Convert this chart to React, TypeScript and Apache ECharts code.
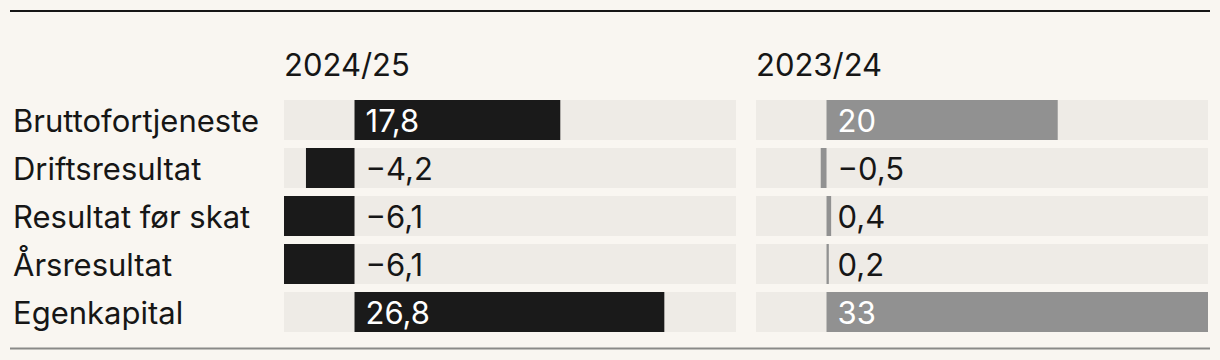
import React, { useEffect, useRef } from "react";
import * as echarts from "echarts";

const categories = ["Bruttofortjeneste", "Driftsresultat", "Resultat før skat", "Årsresultat", "Egenkapital"];
const periods = ["2024/25", "2023/24"];
const values2425 = [17.8, -4.2, -6.1, -6.1, 26.8];
const values2324 = [20, -0.5, 0.4, 0.2, 33];

const axisMin = -6.1;
const axisMax = 33;

const BG = "#f9f6f1";
const BAND = "#eeebe6";
const INK = "#161616";
const BAR_COLORS = ["#1a1a1a", "#919191"];
const FONT = "Inter, 'Noto Sans', sans-serif";

const fmt = (v: number) => {
  const s = Math.abs(v).toString().replace(".", ",");
  return v < 0 ? "\u2212" + s : s;
};

export default function App() {
  const ref = useRef<HTMLDivElement>(null);

  useEffect(() => {
    if (!ref.current) return;
    const chart = echarts.init(ref.current, undefined, { renderer: "svg" });
    const panels = [values2425, values2324];
    const lefts = [284, 756];
    const panelWidth = 452;

    const grid = lefts.map((l) => ({ left: l, width: panelWidth, top: 96, height: 240 }));
    const xAxis = lefts.map((_, i) => ({
      type: "value" as const,
      gridIndex: i,
      min: axisMin,
      max: axisMax,
      show: false,
    }));
    const yAxis = lefts.map((l, i) => ({
      type: "category" as const,
      gridIndex: i,
      data: categories,
      inverse: true,
      axisLine: { show: false },
      axisTick: { show: false },
      axisLabel: {
        show: i === 0,
        align: "left" as const,
        margin: l - 13,
        color: INK,
        fontFamily: FONT,
        fontSize: 31,
      },
    }));

    const series: any[] = [];
    panels.forEach((vals, i) => {
      series.push({
        type: "bar",
        name: periods[i],
        xAxisIndex: i,
        yAxisIndex: i,
        data: vals,
        barWidth: 40,
        showBackground: true,
        backgroundStyle: { color: BAND },
        itemStyle: { color: BAR_COLORS[i] },
      });
      // value labels, anchored at the zero line of each panel
      series.push({
        type: "scatter",
        xAxisIndex: i,
        yAxisIndex: i,
        symbolSize: 0,
        silent: true,
        itemStyle: { opacity: 1 },
        data: vals.map((v, k) => ({
          value: [0, k],
          label: { color: v >= 1 ? "#ffffff" : INK },
        })),
        label: {
          show: true,
          position: "right",
          distance: 11,
          opacity: 1,
          fontFamily: FONT,
          fontSize: 31,
          formatter: (p: any) => fmt(vals[p.dataIndex]),
        },
      });
    });

    chart.setOption({
      animation: false,
      backgroundColor: BG,
      grid,
      xAxis,
      yAxis,
      series,
      graphic: [
        {
          type: "line",
          shape: { x1: 10, y1: 11, x2: 1210, y2: 11 },
          style: { stroke: INK, lineWidth: 2 },
        },
        {
          type: "line",
          shape: { x1: 10, y1: 348.5, x2: 1210, y2: 348.5 },
          style: { stroke: "#8a8a88", lineWidth: 2 },
        },
        ...periods.map((p, i) => ({
          type: "text",
          x: lefts[i],
          y: 64,
          style: {
            text: p,
            fill: INK,
            font: `31px ${FONT}`,
            textVerticalAlign: "middle",
          },
        })),
      ],
    });

    return () => chart.dispose();
  }, []);

  return (
    <div
      ref={ref}
      style={{ position: "fixed", left: 0, top: 0, width: 1220, height: 360 }}
    />
  );
}
